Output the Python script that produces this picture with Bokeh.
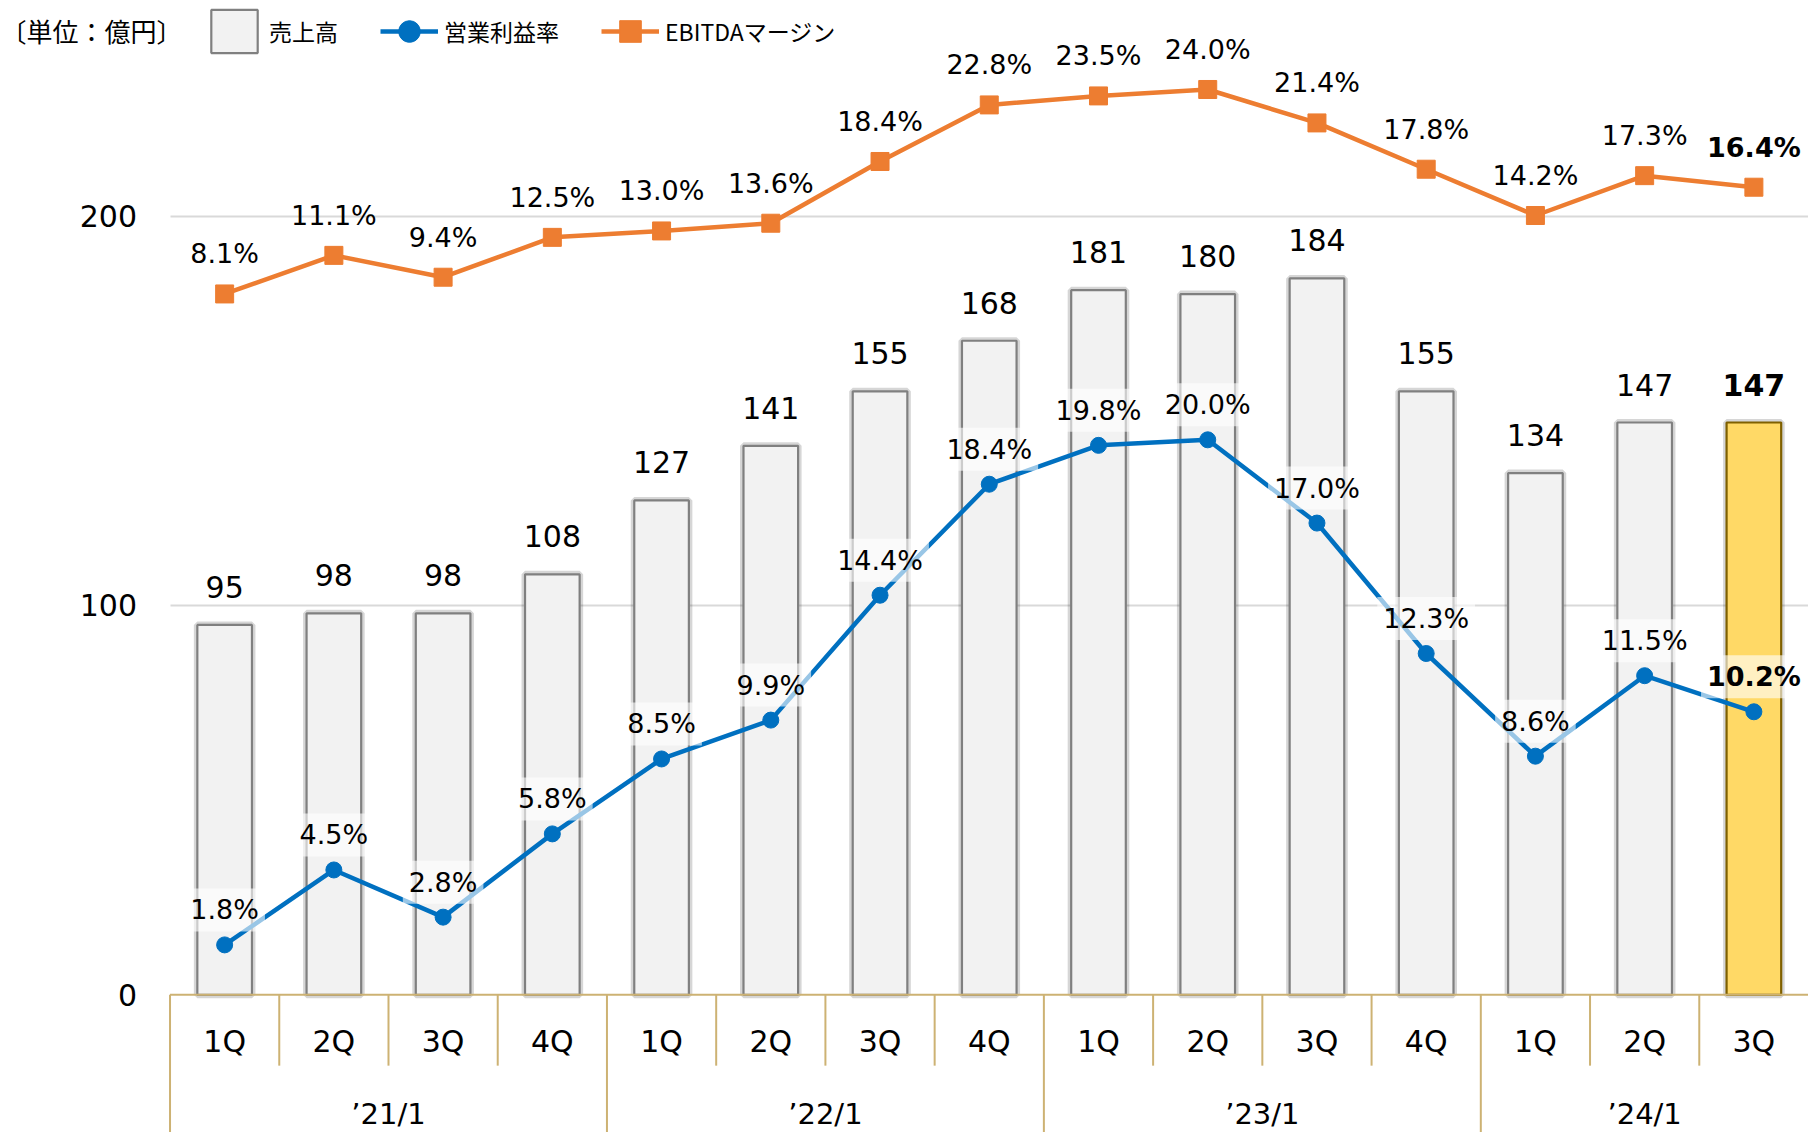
from bokeh.plotting import figure
from bokeh.models import (Range1d, FixedTicker, ColumnDataSource, Label,
                          Legend, LegendItem)
from bokeh.core.properties import value
from bokeh.embed import file_html
from bokeh.resources import INLINE

# ---------------- data ----------------
years = ["’21/1", "’22/1", "’23/1", "’24/1"]
group_sizes = [4, 4, 4, 3]
quarters = ["1Q", "2Q", "3Q", "4Q", "1Q", "2Q", "3Q", "4Q",
            "1Q", "2Q", "3Q", "4Q", "1Q", "2Q", "3Q"]
sales = [95, 98, 98, 108, 127, 141, 155, 168, 181, 180, 184, 155, 134, 147, 147]
op_margin = [1.8, 4.5, 2.8, 5.8, 8.5, 9.9, 14.4, 18.4, 19.8, 20.0, 17.0, 12.3, 8.6, 11.5, 10.2]
ebitda_margin = [8.1, 11.1, 9.4, 12.5, 13.0, 13.6, 18.4, 22.8, 23.5, 24.0, 21.4, 17.8, 14.2, 17.3, 16.4]
y_ticks = [0, 100, 200]
unit_text = "〔単位：億円〕"
series_names = ["売上高", "営業利益率", "EBITDAマージン"]

# ---------------- style ----------------
FONT = value("DejaVu Sans")
GOLD = "#CDB273"
BLUE = "#0070C0"
ORANGE = "#ED7D31"
W, H = 1808, 1132

n = len(sales)
hl = n - 1  # highlighted (latest) quarter
xs = [i + 0.5 for i in range(n)]

src = ColumnDataSource(dict(
    x=xs,
    sales=sales,
    sales_txt=[str(v) for v in sales],
    op=op_margin,
    op_txt=[f"{v:.1f}%" for v in op_margin],
    eb=ebitda_margin,
    eb_txt=[f"{v:.1f}%" for v in ebitda_margin],
    q=quarters,
    fill=["#F2F2F2" if i != hl else "#FFD966" for i in range(n)],
    line=["#808080" if i != hl else "#7F6000" for i in range(n)],
    style=["normal" if i != hl else "bold" for i in range(n)],
))

p = figure(width=W, height=H, output_backend="svg", toolbar_location=None,
           x_range=Range1d(-1.552, n), y_range=Range1d(-35.37, 255.4),
           x_axis_location=None, y_axis_location="left",
           min_border_left=0, min_border_right=0, min_border_top=0,
           min_border_bottom=0, outline_line_color=None)
p.extra_y_ranges = {"op": Range1d(-4.96, 35.83), "eb": Range1d(-57.11, 30.92)}

# y axis drawn at the start of the category area
p.yaxis.fixed_location = 0
p.yaxis.ticker = FixedTicker(ticks=y_ticks)
p.yaxis.axis_line_color = None
p.yaxis.major_tick_line_color = None
p.yaxis.minor_tick_line_color = None
p.yaxis.major_tick_out = 0
p.yaxis.major_label_standoff = 33
p.yaxis.major_label_text_font = "DejaVu Sans"
p.yaxis.major_label_text_font_size = "30px"
p.yaxis.major_label_text_color = "black"
p.xgrid.visible = False
grid_vals = [t for t in y_ticks if t > 0]
p.ygrid.ticker = FixedTicker(ticks=grid_vals)
p.ygrid.grid_line_color = "#D9D9D9"
p.ygrid.grid_line_width = 2
try:
    p.ygrid.cross_bounds = (0, n)
except Exception:
    p.ygrid.visible = False
    p.segment(x0=[0] * len(grid_vals), x1=[n] * len(grid_vals), y0=grid_vals,
              y1=grid_vals, line_color="#D9D9D9", line_width=2, level="underlay")

# bars (shadow + bar)
p.vbar(x="x", top="sales", bottom=0, width=0.5, source=src, fill_color=None,
       line_color="black", line_alpha=0.16, line_width=7)
bars = p.vbar(x="x", top="sales", bottom=0, width=0.5, source=src, fill_color="fill",
              line_color="line", line_width=2.2)

# category axis line and separators
p.segment(x0=[0], x1=[n], y0=[0], y1=[0], line_color=GOLD, line_width=2)
bounds = list(range(n))
group_starts = [sum(group_sizes[:k]) for k in range(len(group_sizes))]
short_b = [b for b in bounds if b not in group_starts]
p.segment(x0=short_b, x1=short_b, y0=[0] * len(short_b), y1=[-18.2] * len(short_b),
          line_color=GOLD, line_width=2)
p.segment(x0=group_starts, x1=group_starts, y0=[0] * len(group_starts),
          y1=[-40] * len(group_starts), line_color=GOLD, line_width=2)

# category labels
p.text(x="x", y=0, text="q", source=src, y_offset=47, text_align="center",
       text_baseline="middle", text_font=FONT, text_font_size="30px", text_color="black")
gx = [s + g / 2 for s, g in zip(group_starts, group_sizes)]
p.text(x=gx, y=[0] * len(gx), text=years, y_offset=119, text_align="center",
       text_baseline="middle", text_font=FONT, text_font_size="29px", text_color="black")

# lines
op_line = p.line(x="x", y="op", source=src, y_range_name="op", line_color=BLUE, line_width=4.5)
op_pts = p.scatter(x="x", y="op", source=src, y_range_name="op", marker="circle",
                   size=16, fill_color=BLUE, line_color=BLUE)
eb_line = p.line(x="x", y="eb", source=src, y_range_name="eb", line_color=ORANGE, line_width=4.5)
eb_pts = p.scatter(x="x", y="eb", source=src, y_range_name="eb", marker="square",
                   size=18, fill_color=ORANGE, line_color=ORANGE)

# value labels
p.text(x="x", y="sales", text="sales_txt", source=src, y_offset=-38,
       text_align="center", text_baseline="alphabetic", text_font=FONT,
       text_font_size="30px", text_font_style="style", text_color="black")
p.text(x="x", y="op", text="op_txt", source=src, y_range_name="op", y_offset=-35,
       text_align="center", text_baseline="alphabetic", text_font=FONT,
       text_font_size="27px", text_font_style="style", text_color="black",
       background_fill_color="white", background_fill_alpha=0.6, padding=6)
p.text(x="x", y="eb", text="eb_txt", source=src, y_range_name="eb", y_offset=-40,
       text_align="center", text_baseline="alphabetic", text_font=FONT,
       text_font_size="27px", text_font_style="style", text_color="black")

# legend
legend = Legend(items=[
    LegendItem(label=series_names[0], renderers=[bars], index=0),
    LegendItem(label=series_names[1], renderers=[op_line, op_pts]),
    LegendItem(label=series_names[2], renderers=[eb_line, eb_pts]),
], orientation="horizontal", location=(205, 1074), glyph_width=58, glyph_height=54,
    label_standoff=6, spacing=42, padding=0, margin=0, border_line_color=None,
    background_fill_alpha=0, label_text_font="Noto Sans CJK JP",
    label_text_font_size="23px", label_text_color="black")
p.add_layout(legend)

p.add_layout(Label(x=0, y=1102, x_units="screen", y_units="screen", text=unit_text,
                   text_font="Noto Sans CJK JP", text_font_size="26px",
                   text_baseline="middle", text_color="black"))

open("out.html", "w").write(file_html(p, INLINE))
